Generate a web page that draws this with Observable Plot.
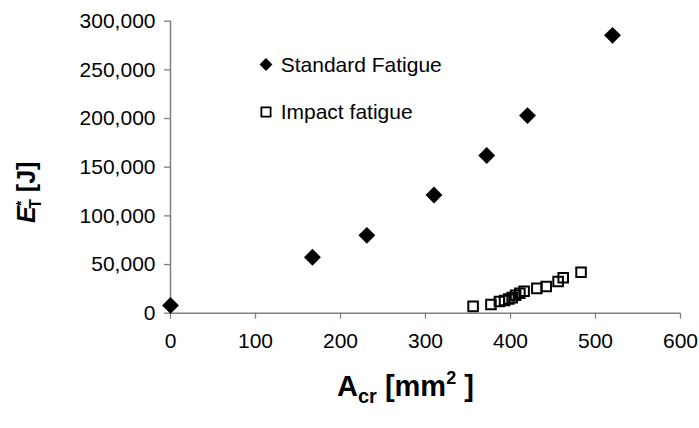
<!DOCTYPE html>
<html>
<head>
<meta charset="utf-8">
<script src="https://cdn.jsdelivr.net/npm/d3@7"></script>
<script src="https://cdn.jsdelivr.net/npm/@observablehq/plot@0.6"></script>
<style>
  html, body { margin: 0; padding: 0; background: #fff; }
  #wrap { position: relative; width: 699px; height: 428px; font-family: "Liberation Sans", Arial, sans-serif; }
  #overlay { position: absolute; left: 0; top: 0; pointer-events: none; }
</style>
</head>
<body>
<div id="wrap"></div>
<script>
// ---- data ----
const seriesNames = ["Standard Fatigue", "Impact fatigue"];
const standardArea = [0, 167, 231, 310, 372, 420, 520];
const standardEnergy = [8000, 57500, 80000, 121500, 162000, 203000, 285500];
const impactArea = [356, 377, 387, 393, 398, 402, 406, 411, 416, 431, 442, 456, 462, 483];
const impactEnergy = [7000, 9000, 12000, 13000, 14500, 16000, 18500, 20500, 22500, 25500, 27500, 32500, 36500, 42000];
const xTicks = [0, 100, 200, 300, 400, 500, 600];
const yTicks = [0, 50000, 100000, 150000, 200000, 250000, 300000];

const standard = standardArea.map((a, i) => ({a, e: standardEnergy[i]}));
const impact = impactArea.map((a, i) => ({a, e: impactEnergy[i]}));

const W = 699, H = 428;
const axisColor = "#808080";

const chart = Plot.plot({
  width: W, height: H,
  marginLeft: 170, marginRight: 19, marginTop: 20.7, marginBottom: 115.3,
  style: {fontFamily: "'Liberation Sans', Arial, sans-serif", fontSize: "21px", background: "white", color: "black", overflow: "visible"},
  x: {domain: [0, 600]},
  y: {domain: [0, 300000]},
  marks: [
    Plot.axisX({ticks: xTicks, tickSize: 6, tickPadding: 14, stroke: axisColor, strokeWidth: 1.3, fontSize: 21, tickFormat: d => String(d), label: null}),
    Plot.axisY({ticks: yTicks, tickSize: 6, tickPadding: 9, stroke: axisColor, strokeWidth: 1.3, fontSize: 21, tickFormat: d3.format(","), label: null}),
    Plot.ruleY([0], {stroke: axisColor, strokeWidth: 1.5}),
    Plot.ruleX([0], {stroke: axisColor, strokeWidth: 1.5}),
    Plot.dot(impact, {x: "a", y: "e", symbol: "square", r: 5.4, stroke: "black", strokeWidth: 2, fill: "none"}),
    Plot.dot(standard, {x: "a", y: "e", symbol: "diamond2", r: 7.6, fill: "black", stroke: "none"})
  ]
});
document.getElementById("wrap").appendChild(chart);

// ---- overlay: legend + axis titles ----
const svg = d3.select("#wrap").append("svg")
  .attr("id", "overlay").attr("width", W).attr("height", H)
  .style("font-family", "'Liberation Sans', Arial, sans-serif");

// legend
const legendSymbols = [d3.symbolDiamond2, d3.symbolSquare];
const legendSizes = [Math.PI * 5.8 * 5.8, Math.PI * 5.2 * 5.2];
const leg = svg.append("g").attr("transform", "translate(266,0)");
seriesNames.forEach((name, i) => {
  const cy = i === 0 ? 64.5 : 112;
  const base = i === 0 ? 71.7 : 118.5;
  const p = leg.append("path")
    .attr("d", d3.symbol(legendSymbols[i], legendSizes[i])())
    .attr("transform", `translate(0,${cy})`);
  if (i === 0) p.attr("fill", "black");
  else p.attr("fill", "none").attr("stroke", "black").attr("stroke-width", 1.8);
  leg.append("text").attr("x", 14.7).attr("y", base)
    .attr("font-size", 21).attr("fill", "black").text(name);
});

// x title: A_cr [mm^2 ]
const xt = svg.append("text").attr("x", 337).attr("y", 396)
  .attr("font-size", 29).attr("font-weight", "bold").attr("fill", "black");
xt.append("tspan").text("A");
xt.append("tspan").attr("font-size", 20).attr("dy", 7).text("cr");
xt.append("tspan").attr("dy", -7).text(" [mm");
xt.append("tspan").attr("font-size", 18).attr("dy", -12).text("2");
xt.append("tspan").attr("dy", 12).text(" ]");

// y title: E*_T [J]
const yt = svg.append("text")
  .attr("transform", "translate(35,223) rotate(-90)")
  .attr("font-size", 25).attr("font-weight", "bold").attr("fill", "black");
yt.append("tspan").attr("font-style", "italic").text("E");
yt.append("tspan").attr("font-size", 14).attr("dy", -9).text("*");
yt.append("tspan").attr("font-size", 16).attr("dx", -8).attr("dy", 15).text("T");
yt.append("tspan").attr("dy", -6).text(" [J]");
</script>
</body>
</html>
